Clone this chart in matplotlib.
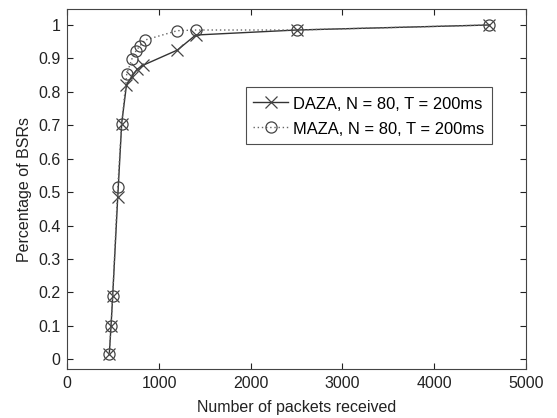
import matplotlib

matplotlib.use("Agg")
import matplotlib.pyplot as plt  # noqa: E402

daza_x = [458, 477, 495, 550, 593, 645, 700, 760, 830, 1200, 1400, 2500, 4600]
daza_y = [0.016, 0.10, 0.19, 0.485, 0.705, 0.82, 0.845, 0.867, 0.88, 0.925, 0.97, 0.985, 1.0]

maza_x = [458, 477, 495, 550, 593, 648, 702, 749, 793, 847, 1200, 1400, 2500, 4600]
maza_y = [0.016, 0.10, 0.19, 0.515, 0.705, 0.853, 0.897, 0.923, 0.938, 0.955, 0.983, 0.985, 0.985, 1.0]

x_ticks = [0, 1000, 2000, 3000, 4000, 5000]
y_ticks = [0, 0.1, 0.2, 0.3, 0.4, 0.5, 0.6, 0.7, 0.8, 0.9, 1]
y_labels = ["0", "0.1", "0.2", "0.3", "0.4", "0.5", "0.6", "0.7", "0.8", "0.9", "1"]

plt.rcParams["font.family"] = ["Liberation Sans", "DejaVu Sans"]
plt.rcParams["font.size"] = 11.5

fig = plt.figure(figsize=(5.57, 4.18), dpi=100)
ax = fig.add_axes([0.1208, 0.1165, 0.8235, 0.8613])

ax.plot(daza_x, daza_y, color="#333333", linewidth=1.0, marker="x",
        markersize=9, markeredgewidth=0.9, markeredgecolor="#444444",
        label="DAZA, N = 80, T = 200ms")
ax.plot(maza_x, maza_y, color="#666666", linewidth=1.0, linestyle=(0, (1, 2)),
        marker="o", markersize=8, markerfacecolor="none", markeredgewidth=0.9,
        markeredgecolor="#444444", label="MAZA, N = 80, T = 200ms")

ax.set_xlim(0, 5000)
ax.set_ylim(-0.03, 1.047)
ax.set_xticks(x_ticks)
ax.set_yticks(y_ticks)
ax.set_yticklabels(y_labels)
ax.tick_params(direction="in", top=True, right=True, length=4, width=0.8,
               colors="#222222", labelsize=11.5, pad=5)
for s in ax.spines.values():
    s.set_color("#444444")
    s.set_linewidth(0.8)

ax.set_xlabel("Number of packets received", fontsize=11.5, color="#222222",
              labelpad=6)
ax.set_ylabel("Percentage of BSRs", fontsize=11.5, color="#222222",
              labelpad=4)

leg = ax.legend(loc="upper left", bbox_to_anchor=(0.389, 0.784), fontsize=11.9,
                frameon=True, fancybox=False, handlelength=2.1,
                handleheight=1.2, handletextpad=0.3, borderpad=0.45,
                labelspacing=0.5, borderaxespad=0)
leg.get_frame().set_edgecolor("#222222")
leg.get_frame().set_linewidth(0.8)

fig.savefig("out.png", dpi=100)
